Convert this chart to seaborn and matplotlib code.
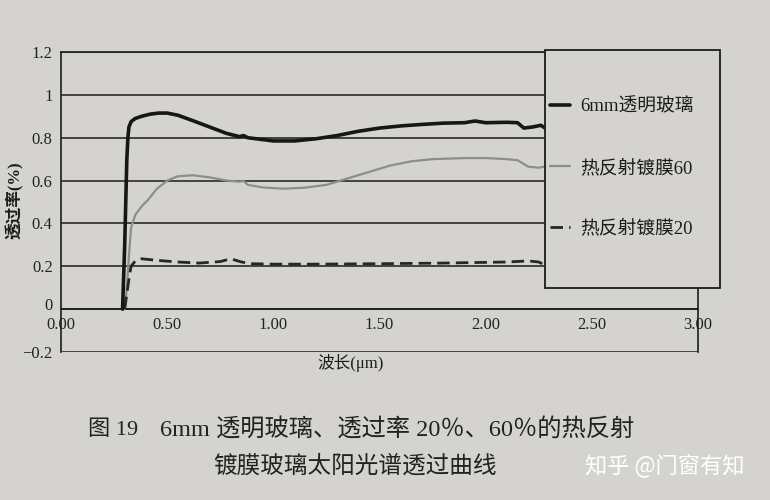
import numpy as np
import pandas as pd
import matplotlib
matplotlib.use("Agg")
import matplotlib.pyplot as plt
from matplotlib.patches import Rectangle
from matplotlib.transforms import ScaledTranslation
import seaborn as sns

# ---------------- data ----------------
clear_x = [0.29, 0.30, 0.31, 0.315, 0.32, 0.33, 0.35, 0.38, 0.42, 0.46, 0.50, 0.55,
           0.62, 0.70, 0.78, 0.84, 0.86, 0.88, 0.92, 1.00, 1.10, 1.20, 1.30, 1.40,
           1.50, 1.60, 1.70, 1.80, 1.90, 1.95, 2.00, 2.10, 2.15, 2.18, 2.22, 2.26,
           2.28, 2.32, 2.34, 2.50, 2.70, 3.00]
clear_y = [0.00, 0.30, 0.70, 0.80, 0.85, 0.875, 0.89, 0.90, 0.91, 0.915, 0.915, 0.905,
           0.88, 0.85, 0.82, 0.805, 0.81, 0.80, 0.795, 0.785, 0.785, 0.795, 0.81, 0.83,
           0.845, 0.855, 0.862, 0.868, 0.87, 0.878, 0.87, 0.872, 0.87, 0.845, 0.85, 0.858,
           0.845, 0.86, 0.88, 0.87, 0.86, 0.85]

hr60_x = [0.30, 0.31, 0.32, 0.33, 0.35, 0.38, 0.41, 0.45, 0.50, 0.55, 0.62, 0.70,
          0.78, 0.84, 0.86, 0.88, 0.95, 1.05, 1.15, 1.25, 1.35, 1.45, 1.55, 1.65,
          1.75, 1.90, 2.00, 2.10, 2.15, 2.20, 2.25, 2.30, 2.34, 2.50, 3.00]
hr60_y = [0.00, 0.10, 0.25, 0.38, 0.44, 0.48, 0.51, 0.56, 0.60, 0.62, 0.625, 0.615,
          0.60, 0.595, 0.598, 0.58, 0.568, 0.562, 0.567, 0.58, 0.61, 0.64, 0.67, 0.69,
          0.70, 0.705, 0.705, 0.70, 0.695, 0.665, 0.66, 0.67, 0.68, 0.69, 0.68]

hr20_x = [0.30, 0.32, 0.33, 0.35, 0.38, 0.45, 0.55, 0.65, 0.75, 0.80, 0.85, 0.90,
          1.00, 1.20, 1.50, 1.80, 2.10, 2.20, 2.25, 2.28, 2.31, 2.34, 2.50, 3.00]
hr20_y = [0.00, 0.14, 0.20, 0.225, 0.235, 0.228, 0.22, 0.215, 0.222, 0.235, 0.22, 0.212,
          0.21, 0.21, 0.212, 0.215, 0.22, 0.225, 0.22, 0.205, 0.19, 0.21, 0.21, 0.21]

series_labels = ["6mm透明玻璃", "热反射镀膜60", "热反射镀膜20"]

x_ticks = [0.0, 0.5, 1.0, 1.5, 2.0, 2.5, 3.0]
x_tick_labels = ["0.00", "0.50", "1.00", "1.50", "2.00", "2.50", "3.00"]
y_ticks = [-0.2, 0.0, 0.2, 0.4, 0.6, 0.8, 1.0, 1.2]
y_tick_labels = ["\u22120.2", "0", "0.2", "0.4", "0.6", "0.8", "1", "1.2"]

x_label = "波长(μm)"
y_label = "透过率(%)"
caption_fig = "图 19"
caption_line1 = "6mm 透明玻璃、透过率 20％、60％的热反射"
caption_line2 = "镀膜玻璃太阳光谱透过曲线"
watermark = "知乎 @门窗有知"

# ---------------- style ----------------
sns.set_theme(style="white")
plt.rcParams["font.family"] = ["Liberation Serif", "Noto Sans CJK SC", "DejaVu Sans"]
plt.rcParams["axes.unicode_minus"] = True

BG = "#d5d3cf"
fig = plt.figure(figsize=(7.7, 5.0), dpi=100, facecolor=BG)
ax = fig.add_axes([61 / 770, 1 - 352 / 500, 637 / 770, 300 / 500])
ax.set_facecolor(BG)

df_clear = pd.DataFrame({"x": clear_x, "y": clear_y})
df_60 = pd.DataFrame({"x": hr60_x, "y": hr60_y})
df_20 = pd.DataFrame({"x": hr20_x, "y": hr20_y})

sns.lineplot(data=df_60, x="x", y="y", ax=ax, color="#8d8d8b", lw=1.6,
             label=series_labels[1], sort=False, zorder=3)
sns.lineplot(data=df_20, x="x", y="y", ax=ax, color="#262626", lw=2.0,
             linestyle=(0, (4.5, 2.2)), label=series_labels[2], sort=False, zorder=3)
sns.lineplot(data=df_clear, x="x", y="y", ax=ax, color="#161616", lw=2.6,
             label=series_labels[0], sort=False, zorder=4)

ax.set_xlim(0, 3.0)
ax.set_ylim(-0.2, 1.2)

ax.set_yticks(y_ticks, y_tick_labels)
ax.set_xticks(x_ticks, x_tick_labels)
ax.yaxis.grid(True, color="#1c1c1c", lw=1.1)
ax.xaxis.grid(False)
ax.tick_params(axis="y", length=0, pad=6, labelsize=12, colors="#222222")
ax.tick_params(axis="x", direction="in", length=5, width=1.0, pad=6,
               labelsize=12, colors="#222222")

for s in ["left", "right", "top"]:
    ax.spines[s].set_color("#1c1c1c")
    ax.spines[s].set_linewidth(1.2)
ax.spines["bottom"].set_position(("data", 0))
ax.spines["bottom"].set_color("#1c1c1c")
ax.spines["bottom"].set_linewidth(1.2)

ax.set_xlabel(x_label, fontsize=12, color="#1c1c1c")
ax.xaxis.set_label_coords(0.455, -0.005)
ax.set_ylabel(y_label, fontsize=12, fontweight="bold", color="#1c1c1c")
ax.yaxis.set_label_coords(-0.058, 0.505)

# legend in an opaque box on top of the curves
handles, labels = ax.get_legend_handles_labels()
order = [labels.index(l) for l in series_labels]
handles = [handles[i] for i in order]
ax.get_legend().remove()

box = Rectangle((545 / 770, 1 - 288 / 500), 175 / 770, 238 / 500,
                transform=fig.transFigure, facecolor=BG, edgecolor="#1c1c1c",
                lw=1.3, zorder=3)
fig.add_artist(box)
leg = fig.legend(handles, series_labels, loc="center left",
                 bbox_to_anchor=(550 / 770, 1 - 168 / 500), frameon=False,
                 prop={"size": 13.5}, handlelength=1.05, handletextpad=0.55,
                 labelspacing=2.3, borderpad=0, borderaxespad=0)
leg.set_zorder(5)
for t in leg.get_texts():
    t.set_color("#1c1c1c")

# caption
fig.text(88 / 770, 1 - 430 / 500, caption_fig, fontsize=16, va="center",
         ha="left", color="#222222")
fig.text(160 / 770, 1 - 430 / 500, caption_line1, fontsize=17.5, va="center",
         ha="left", color="#222222")
fig.text(213 / 770, 1 - 466 / 500, caption_line2, fontsize=17, va="center",
         ha="left", color="#222222")
fig.text(585 / 770, 1 - 465 / 500, watermark, fontsize=16, va="center",
         ha="left", color="white", family=["Noto Sans CJK SC", "DejaVu Sans"])

# nudge the "0" y tick label up a little so it sits above "0.00"
fig.canvas.draw()
zero_tick = ax.yaxis.get_major_ticks()[1]
zero_tick.label1.set_transform(zero_tick.label1.get_transform()
                               + ScaledTranslation(0, 4 / 72, fig.dpi_scale_trans))

fig.savefig("out.png", dpi=100, facecolor=BG)
